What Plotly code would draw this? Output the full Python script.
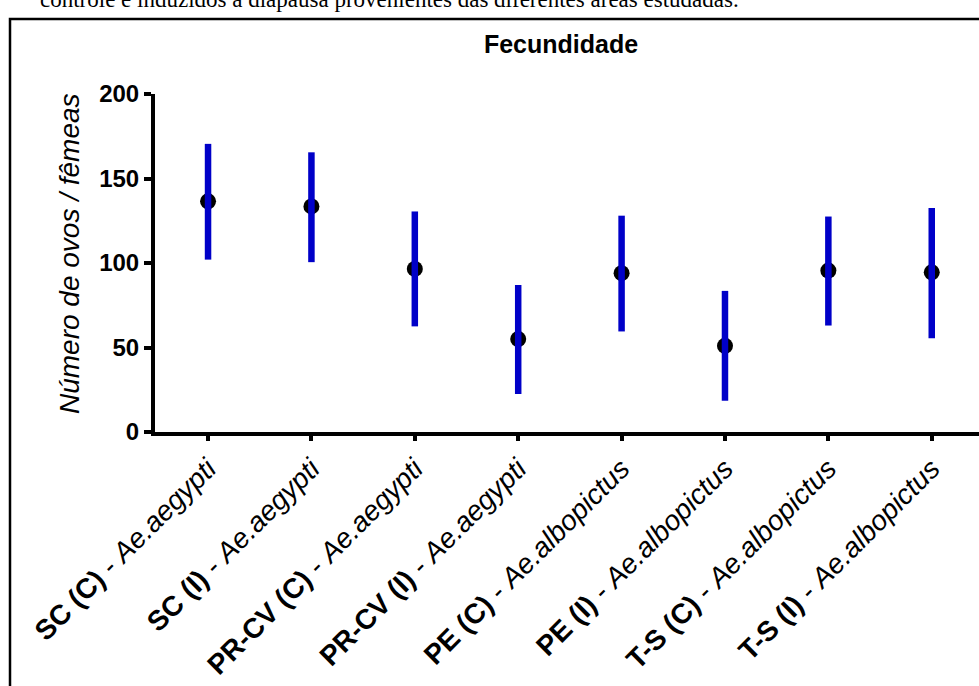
import plotly.graph_objects as go

groups = ["SC (C)", "SC (I)", "PR-CV (C)", "PR-CV (I)", "PE (C)", "PE (I)", "T-S (C)", "T-S (I)"]
species = ["Ae.aegypti", "Ae.aegypti", "Ae.aegypti", "Ae.aegypti",
           "Ae.albopictus", "Ae.albopictus", "Ae.albopictus", "Ae.albopictus"]
means = [136.5, 133.5, 96.5, 55, 94, 51, 95.5, 94.5]
upper = [170.5, 165.5, 130.5, 87, 128, 83.5, 127.5, 132.5]
lower = [102, 100.5, 62.5, 22.5, 59.5, 18.5, 63, 55.5]
y_ticks = [0, 50, 100, 150, 200]

labels = [f"<b>{g}</b> - <i>{s}</i>" for g, s in zip(groups, species)]
xs = list(range(len(groups)))
err_plus = [u - m for u, m in zip(upper, means)]
err_minus = [m - l for m, l in zip(means, lower)]

W, H = 979, 686
L, R, T, B = 155, 0, 94, 254
pw, ph = W - L - R, H - T - B

def px_x(p):
    return (p - L) / pw

def px_y(p):
    return (H - B - p) / ph

FONT = "Arial, Liberation Sans, sans-serif"

fig = go.Figure()
fig.add_trace(go.Scatter(
    x=xs, y=means, mode="markers",
    marker=dict(size=16, color="black"),
    showlegend=False, hoverinfo="skip"))
fig.add_trace(go.Scatter(
    x=xs, y=means, mode="markers",
    marker=dict(size=1, color="rgba(0,0,0,0)"),
    error_y=dict(type="data", symmetric=False, array=err_plus, arrayminus=err_minus,
                 color="#0000C8", thickness=6.5, width=0),
    showlegend=False, hoverinfo="skip"))

fig.update_layout(
    width=W, height=H,
    margin=dict(l=L, r=R, t=T, b=B, autoexpand=False),
    paper_bgcolor="white", plot_bgcolor="white",
    showlegend=False,
    title=dict(text="<b>Fecundidade</b>", x=561 / W, xref="container", xanchor="center",
               y=1 - 44 / H, yref="container", yanchor="middle",
               font=dict(family=FONT, size=25, color="black")),
    xaxis=dict(range=[-0.513, 7.457], tickmode="array", tickvals=xs, ticktext=labels,
               tickangle=-45, showgrid=False, zeroline=False,
               showline=True, linecolor="black", linewidth=4,
               ticks="outside", ticklen=5, tickwidth=4, tickcolor="black",
               tickfont=dict(family=FONT, size=28, color="black")),
    yaxis=dict(range=[0, 200], tickmode="array", tickvals=y_ticks,
               ticktext=[f"<b>{v}</b>" for v in y_ticks],
               showgrid=False, zeroline=False,
               showline=True, linecolor="black", linewidth=4,
               ticks="outside", ticklen=7, tickwidth=4, tickcolor="black",
               tickfont=dict(family=FONT, size=24, color="black")),
    shapes=[dict(type="rect", xref="paper", yref="paper",
                 x0=px_x(10), x1=px_x(1000), y0=px_y(19), y1=px_y(720),
                 line=dict(color="black", width=2.5), fillcolor="rgba(0,0,0,0)",
                 layer="below")],
    annotations=[
        dict(text="<i>Número de ovos / fêmeas</i>", xref="paper", yref="paper",
             x=px_x(69), y=px_y(254), xanchor="center", yanchor="middle",
             textangle=-90, showarrow=False,
             font=dict(family=FONT, size=28, color="black")),
        dict(text="controle e induzidos à diapausa provenientes das diferentes áreas estudadas.",
             xref="paper", yref="paper", x=px_x(38), y=px_y(14),
             xanchor="left", yanchor="bottom", showarrow=False,
             font=dict(family="Liberation Serif, Times New Roman, serif", size=23, color="black")),
    ],
)

fig.write_html("out.html", config={"displayModeBar": False},
               post_script="document.body.style.margin='0px';document.body.style.overflow='hidden';")
